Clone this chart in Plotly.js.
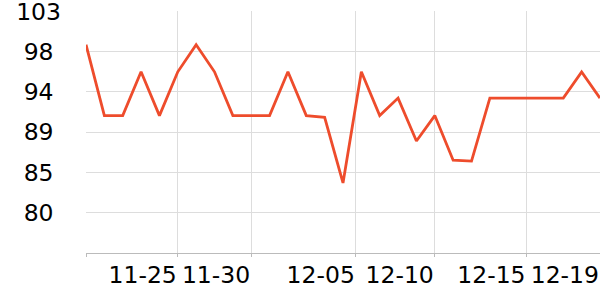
<!DOCTYPE html>
<html>
<head>
<meta charset="utf-8">
<script src="https://cdn.plot.ly/plotly-3.0.1.min.js"></script>
<style>html,body{margin:0;padding:0;background:#fff;}#chart{width:600px;height:300px;}</style>
</head>
<body>
<div id="chart"></div>
<script>
// Point positions (index along the x axis)
const pointIndex = [0,1,2,3,4,5,6,7,8,9,10,11,12,13,14,15,16,17,18,19,20,21,22,23,24,25,26,27,28];
// Series values
const values = [99.2,91.1,91.1,96.1,91.1,96.1,99.2,96.1,91.1,91.1,91.1,96.1,91.1,90.9,83.4,96.1,91.1,93.1,88.2,91.1,86.0,85.9,93.1,93.1,93.1,93.1,93.1,96.1,93.1];
// X tick positions and labels
const xTickVals = [0, 5, 9, 14.7, 19, 24, 28];
const xTickText = ["", "11-25", "11-30", "12-05", "12-10", "12-15", "12-19"];
// Y tick positions and labels
const yTickVals = [80, 84.6, 89.2, 93.8, 98.4, 103];
const yTickText = ["80", "85", "89", "94", "98", "103"];

const NB = "\u00a0";
const yText = yTickText.map(t => t.length === 2 ? t + NB : t);

const trace = {
  x: pointIndex,
  y: values,
  type: "scatter",
  mode: "lines",
  line: {color: "#ee4c2c", width: 2.8},
  hoverinfo: "skip"
};

const layout = {
  width: 600,
  height: 300,
  margin: {l: 85.5, r: 0, t: 11, b: 47, pad: 0},
  paper_bgcolor: "#fff",
  plot_bgcolor: "#fff",
  showlegend: false,
  font: {family: "DejaVu Sans", size: 23.5, color: "#000"},
  xaxis: {
    type: "linear",
    range: [0, 28],
    tickmode: "array",
    tickvals: xTickVals,
    ticktext: xTickText,
    ticklabelposition: "outside left",
    tickangle: 0,
    ticks: "outside",
    ticklen: 3,
    tickcolor: "#bbb",
    showgrid: true,
    gridcolor: "#ddd",
    gridwidth: 1,
    showline: true,
    linecolor: "#bbb",
    linewidth: 1,
    zeroline: false,
    ticklabelstandoff: 1,
    tickfont: {family: "DejaVu Sans", size: 23.5, color: "#000"}
  },
  yaxis: {
    range: [75.4, 103.05],
    tickmode: "array",
    tickvals: yTickVals,
    ticktext: yText,
    ticks: "",
    showgrid: true,
    gridcolor: "#ddd",
    gridwidth: 1,
    showline: false,
    zeroline: false,
    ticklabelstandoff: 24,
    ticklabeloverflow: "allow",
    tickfont: {family: "DejaVu Sans", size: 23.5, color: "#000"}
  }
};

Plotly.newPlot("chart", [trace], layout, {staticPlot: true, displayModeBar: false});
</script>
</body>
</html>
